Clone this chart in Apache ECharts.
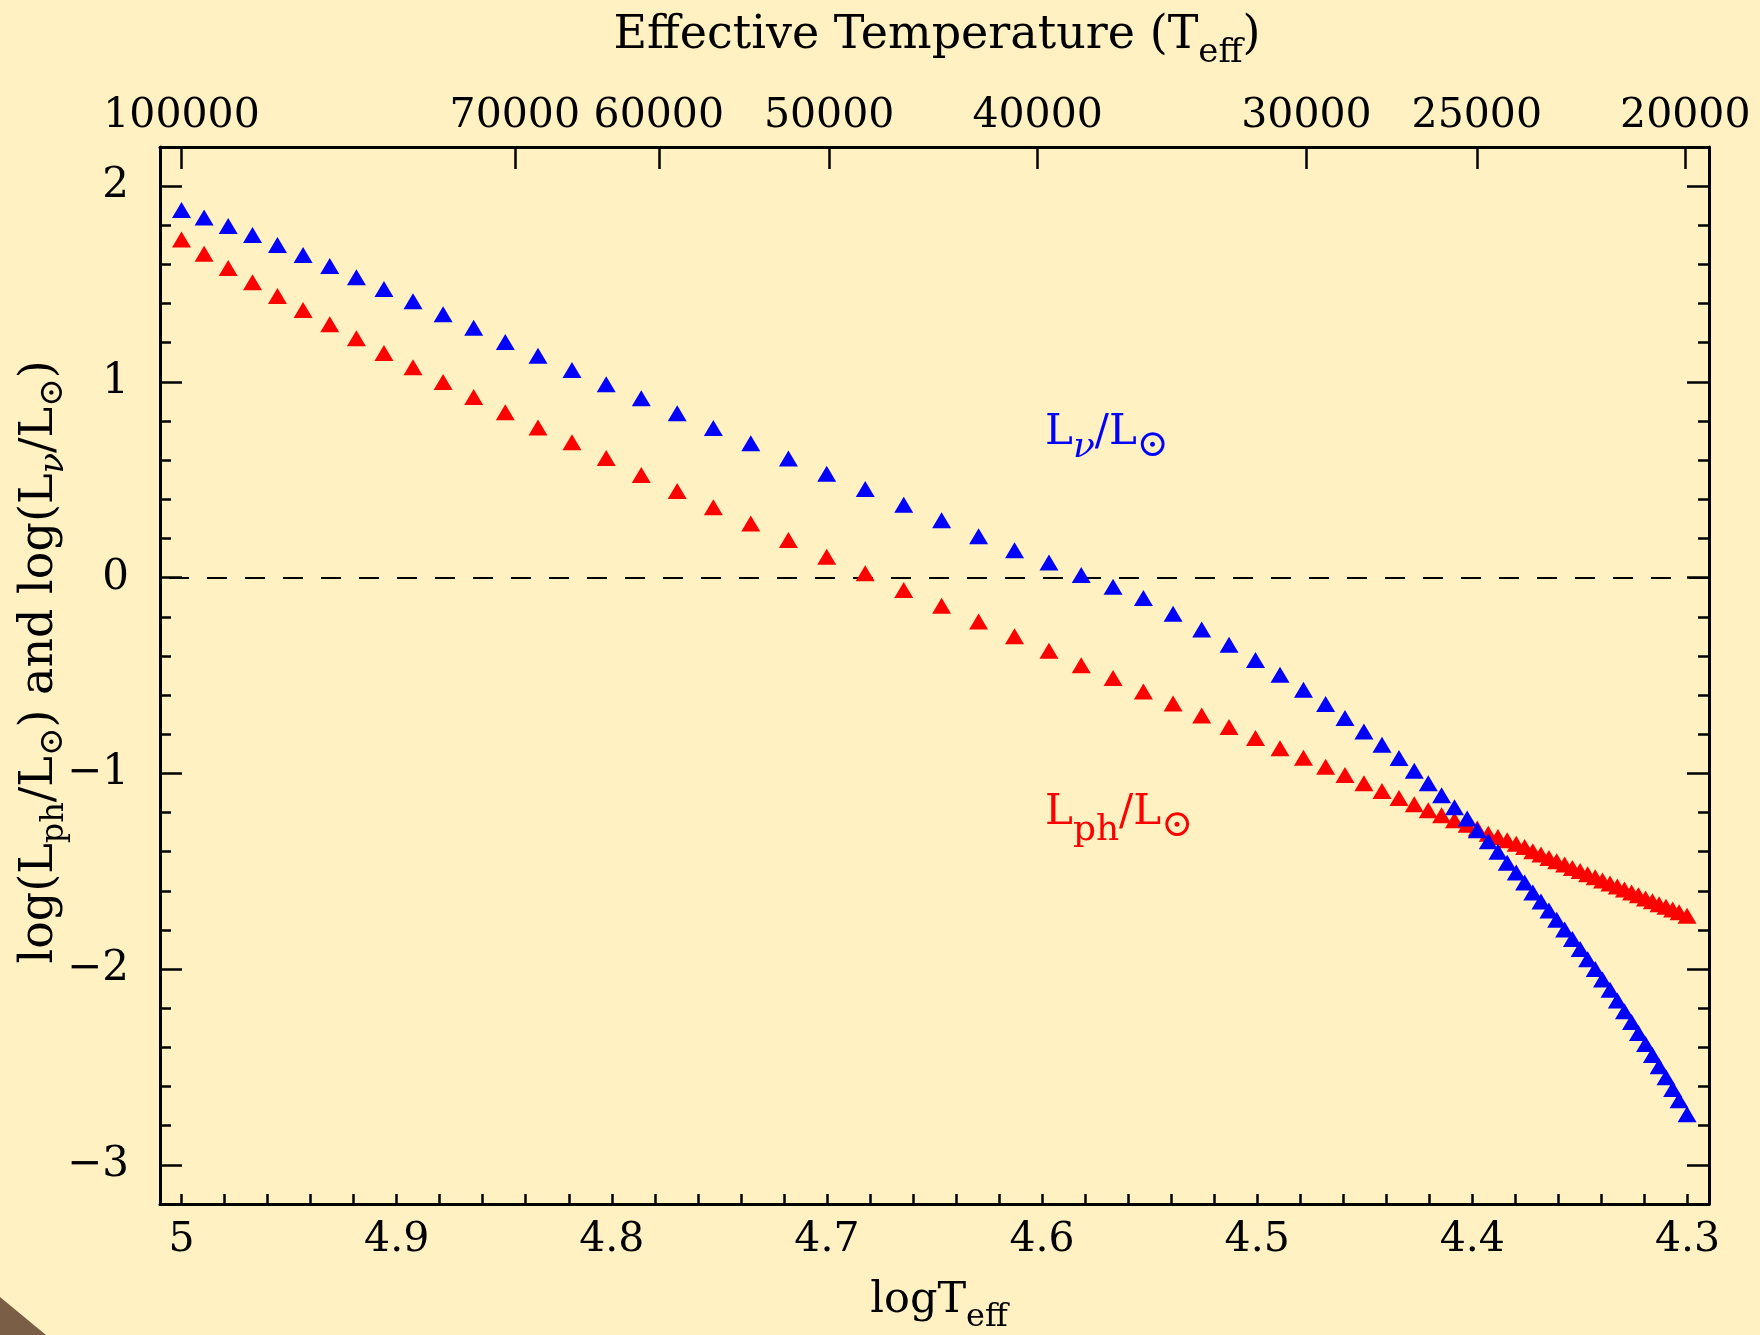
<!DOCTYPE html>
<html>
<head>
<meta charset="utf-8">
<script src="https://cdn.jsdelivr.net/npm/echarts@6/dist/echarts.min.js"></script>
<style>
html,body{margin:0;padding:0;background:#fff1c1;}
#chart{width:1760px;height:1335px;}
</style>
</head>
<body>
<div id="chart"></div>
<script>
// ---- data ----
const logTeff = [
  5.0000, 4.9895, 4.9783, 4.9670, 4.9554, 4.9435, 4.9311, 4.9187, 4.9059, 4.8924,
  4.8784, 4.8642, 4.8495, 4.8343, 4.8185, 4.8026, 4.7863, 4.7696, 4.7528, 4.7354,
  4.7179, 4.7001, 4.6822, 4.6643, 4.6467, 4.6295, 4.6128, 4.5968, 4.5818, 4.5670,
  4.5529, 4.5391, 4.5258, 4.5131, 4.5008, 4.4894, 4.4785, 4.4682, 4.4592, 4.4504,
  4.4420, 4.4341, 4.4270, 4.4205, 4.4143, 4.4083, 4.4024, 4.3977, 4.3926, 4.3881,
  4.3838, 4.3796, 4.3757, 4.3719, 4.3681, 4.3644, 4.3608, 4.3571, 4.3535, 4.3499,
  4.3464, 4.3429, 4.3395, 4.3360, 4.3326, 4.3293, 4.3260, 4.3228, 4.3195, 4.3163,
  4.3132, 4.3100, 4.3069, 4.3039, 4.3002
];
const logLnu = [
  1.878, 1.840, 1.796, 1.750, 1.699, 1.648, 1.592, 1.534, 1.474, 1.412,
  1.345, 1.276, 1.204, 1.133, 1.061, 0.988, 0.916, 0.840, 0.764, 0.687,
  0.609, 0.531, 0.453, 0.372, 0.293, 0.211, 0.140, 0.077, 0.014, -0.046,
  -0.104, -0.185, -0.265, -0.343, -0.421, -0.496, -0.573, -0.646, -0.717, -0.786,
  -0.854, -0.921, -0.986, -1.051, -1.112, -1.173, -1.231, -1.291, -1.347, -1.401,
  -1.456, -1.507, -1.558, -1.609, -1.655, -1.701, -1.748, -1.797, -1.846, -1.897,
  -1.949, -2.000, -2.053, -2.106, -2.160, -2.215, -2.270, -2.326, -2.382, -2.439,
  -2.496, -2.553, -2.612, -2.670, -2.741
];
const logLph = [
  1.728, 1.655, 1.582, 1.509, 1.439, 1.367, 1.294, 1.223, 1.148, 1.075,
  1.000, 0.923, 0.845, 0.767, 0.692, 0.611, 0.524, 0.442, 0.359, 0.276,
  0.192, 0.107, 0.022, -0.063, -0.144, -0.224, -0.300, -0.374, -0.448, -0.513,
  -0.582, -0.643, -0.704, -0.763, -0.819, -0.872, -0.920, -0.966, -1.008, -1.051,
  -1.090, -1.126, -1.158, -1.189, -1.214, -1.240, -1.262, -1.282, -1.308, -1.325,
  -1.342, -1.359, -1.376, -1.398, -1.415, -1.432, -1.449, -1.466, -1.483, -1.499,
  -1.515, -1.531, -1.547, -1.563, -1.578, -1.593, -1.609, -1.623, -1.639, -1.653,
  -1.668, -1.682, -1.696, -1.710, -1.728
];
const tempTickLabels = [100000, 70000, 60000, 50000, 40000, 30000, 25000, 20000];
const xLabelValues = [5.0, 4.9, 4.8, 4.7, 4.6, 4.5, 4.4, 4.3];
const yLabelValues = [2, 1, 0, -1, -2, -3];

// ---- options ----
const F = '"DejaVu Serif", "Liberation Serif", serif';
const X_MIN = 4.29, X_MAX = 5.01, Y_MIN = -3.2, Y_MAX = 2.2;
const xMinorTicks = [];
for (let i = 0; i <= 35; i++) xMinorTicks.push(+(4.3 + i * 0.02).toFixed(2));
const tempTickPos = tempTickLabels.map(t => Math.log10(t));

const lineStyle = { color: '#000', width: 3 };
const tickStyle = { color: '#000', width: 2.5 };

const chart = echarts.init(document.getElementById('chart'), null, { renderer: 'canvas' });

const option = {
  backgroundColor: '#fff1c1',
  animation: false,
  textStyle: { fontFamily: F },
  grid: { left: 160, right: 51, top: 147, bottom: 131, containLabel: false },
  xAxis: [
    {
      type: 'value', position: 'bottom', min: X_MIN, max: X_MAX, inverse: true,
      axisLine: { show: true, onZero: false, lineStyle },
      axisTick: { show: true, inside: true, length: 10, customValues: xMinorTicks, lineStyle: tickStyle },
      axisLabel: {
        show: true, customValues: xLabelValues, margin: 16, color: '#000', fontSize: 41, fontFamily: F,
        formatter: v => String(Math.round(v * 10) / 10)
      },
      splitLine: { show: false }
    },
    {
      type: 'value', position: 'top', min: X_MIN, max: X_MAX, inverse: true,
      axisLine: { show: true, onZero: false, lineStyle },
      axisTick: { show: true, inside: true, length: 22, customValues: tempTickPos, lineStyle: tickStyle },
      axisLabel: {
        show: true, customValues: tempTickPos, margin: 10, color: '#000', fontSize: 41, fontFamily: F,
        formatter: v => {
          let best = tempTickLabels[0], d = 1e9;
          tempTickLabels.forEach(t => { const dd = Math.abs(Math.log10(t) - v); if (dd < d) { d = dd; best = t; } });
          return String(best);
        }
      },
      splitLine: { show: false }
    }
  ],
  yAxis: [
    {
      type: 'value', position: 'left', min: Y_MIN, max: Y_MAX, interval: 0.2,
      axisLine: { show: true, onZero: false, lineStyle },
      axisTick: { show: true, inside: true, length: 11, lineStyle: tickStyle },
      axisLabel: { show: false },
      splitLine: { show: false }
    },
    {
      type: 'value', position: 'left', min: Y_MIN, max: Y_MAX,
      axisLine: { show: false, onZero: false },
      axisTick: { show: true, inside: true, length: 22, customValues: yLabelValues, lineStyle: tickStyle },
      axisLabel: {
        show: true, customValues: yLabelValues, margin: 31, color: '#000', fontSize: 42, fontFamily: F,
        formatter: v => (v < 0 ? '\u2212' + Math.abs(v) : String(v))
      },
      splitLine: { show: false }
    },
    {
      type: 'value', position: 'right', min: Y_MIN, max: Y_MAX, interval: 0.2,
      axisLine: { show: true, onZero: false, lineStyle },
      axisTick: { show: true, inside: true, length: 11, lineStyle: tickStyle },
      axisLabel: { show: false },
      splitLine: { show: false }
    },
    {
      type: 'value', position: 'right', min: Y_MIN, max: Y_MAX,
      axisLine: { show: false, onZero: false },
      axisTick: { show: true, inside: true, length: 22, customValues: yLabelValues, lineStyle: tickStyle },
      axisLabel: { show: false },
      splitLine: { show: false }
    }
  ],
  series: [
    {
      name: 'Lph', type: 'scatter', xAxisIndex: 0, yAxisIndex: 0,
      symbol: 'triangle', symbolSize: [19, 16],
      itemStyle: { color: '#ff0000', opacity: 1 }, z: 3, silent: true,
      data: logTeff.map((x, i) => [x, logLph[i]]),
      markLine: {
        silent: true, symbol: 'none', z: 1,
        label: { show: false },
        lineStyle: { color: '#000', width: 2, type: [20, 18], opacity: 1 },
        data: [{ yAxis: 0 }]
      }
    },
    {
      name: 'Lnu', type: 'scatter', xAxisIndex: 0, yAxisIndex: 0,
      symbol: 'triangle', symbolSize: [19, 16],
      itemStyle: { color: '#0000ff', opacity: 1 }, z: 4, silent: true,
      data: logTeff.map((x, i) => [x, logLnu[i]])
    }
  ],
  graphic: [
    {
      type: 'polygon', silent: true, z: 10,
      shape: { points: [[0, 1297], [46, 1335], [0, 1335]] },
      style: { fill: '#7a5e46' }
    },
    {
      type: 'text', x: 937, y: 36, silent: true,
      style: {
        text: '{m|Effective Temperature (T}{s|eff}{m|)}',
        align: 'center', verticalAlign: 'middle',
        rich: {
          m: { fontSize: 46, fontFamily: F, fill: '#000' },
          s: { fontSize: 34, fontFamily: F, fill: '#000', padding: [34, 0, 0, 0] }
        }
      }
    },
    {
      type: 'text', x: 939, y: 1301, silent: true,
      style: {
        text: '{m|logT}{s|eff}',
        align: 'center', verticalAlign: 'middle',
        rich: {
          m: { fontSize: 43, fontFamily: F, fill: '#000' },
          s: { fontSize: 32, fontFamily: F, fill: '#000', padding: [34, 0, 0, 0] }
        }
      }
    },
    {
      type: 'text', x: 40, y: 662, rotation: Math.PI / 2, silent: true,
      style: {
        text: '{m|log(L}{s|ph}{m|/L}{o|\u2299}{m|) and log(L}{n|\u03BD}{m|/L}{o|\u2299}{m|)}',
        align: 'center', verticalAlign: 'middle',
        rich: {
          m: { fontSize: 46, fontFamily: F, fill: '#000' },
          s: { fontSize: 32, fontFamily: F, fill: '#000', padding: [30, 0, 0, 0] },
          n: { fontSize: 34, fontFamily: F, fontStyle: 'italic', fill: '#000', padding: [28, 0, 0, 0] },
          o: { fontSize: 34, fontFamily: F, fill: '#000', padding: [26, 0, 0, 0] }
        }
      }
    },
    {
      type: 'text', x: 1045, y: 433, silent: true,
      style: {
        text: '{m|L}{n|\u03BD}{m|/L}{o|\u2299}',
        align: 'left', verticalAlign: 'middle',
        rich: {
          m: { fontSize: 42, fontFamily: F, fill: '#0000ff' },
          n: { fontSize: 36, fontFamily: F, fontStyle: 'italic', fill: '#0000ff', padding: [30, 0, 0, 0] },
          o: { fontSize: 38, fontFamily: F, fill: '#0000ff', padding: [26, 0, 0, 0] }
        }
      }
    },
    {
      type: 'text', x: 1045, y: 813, silent: true,
      style: {
        text: '{m|L}{s|ph}{m|/L}{o|\u2299}',
        align: 'left', verticalAlign: 'middle',
        rich: {
          m: { fontSize: 42, fontFamily: F, fill: '#ff0000' },
          s: { fontSize: 36, fontFamily: F, fill: '#ff0000', padding: [36, 0, 0, 0] },
          o: { fontSize: 38, fontFamily: F, fill: '#ff0000', padding: [26, 0, 0, 0] }
        }
      }
    }
  ]
};
chart.setOption(option);
</script>
</body>
</html>
